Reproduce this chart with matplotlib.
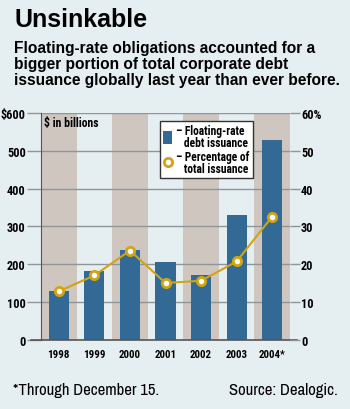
import matplotlib
matplotlib.use("Agg")
import matplotlib.pyplot as plt
from matplotlib.patches import Patch
from matplotlib.lines import Line2D

years = ["1998", "1999", "2000", "2001", "2002", "2003", "2004*"]
issuance = [130, 183, 237, 205, 171, 329, 528]
percentage = [12.8, 17.0, 23.6, 15.0, 15.6, 20.7, 32.6]
left_ticks = [0, 100, 200, 300, 400, 500, 600]
left_labels = ["0", "100", "200", "300", "400", "500", "$600"]
right_ticks = [0, 10, 20, 30, 40, 50, 60]
right_labels = ["0", "10", "20", "30", "40", "50", "60%"]

BG = "#e5eef1"
SHADE = "#cec6bf"
BAR = "#336a95"
GOLD = "#d2a414"
GRID = "#8f9699"

cond = ["Roboto Condensed", "DejaVu Sans"]
narrow = ["Archivo Narrow", "DejaVu Sans"]
bold = ["Liberation Sans", "DejaVu Sans"]
CB = dict(fontfamily=cond, fontweight="bold", fontstretch="condensed")

W, H = 350, 410
fig = plt.figure(figsize=(W/100, H/100), dpi=100, facecolor=BG)

x0, x1 = 41, 290
ytop, ybot = 114, 340.7
ax = fig.add_axes([x0/W, (H-ybot)/H, (x1-x0)/W, (ybot-ytop)/H])
ax.set_facecolor("none")
xs = list(range(len(years)))
for i in xs:
    if i % 2 == 0:
        ax.axvspan(i-0.5, i+0.5, color=SHADE, zorder=0, lw=0)
ax.bar(xs, issuance, width=0.57, color=BAR, zorder=2)
ax.set_xlim(-0.5, len(years)-0.5)
ax.set_ylim(0, 600)
ax.set_yticks(left_ticks)
ax.set_yticklabels(left_labels, fontsize=8.8, **CB)
ax.set_xticks(xs)
ax.set_xticklabels(years, fontsize=7.8, **CB)
ax.tick_params(axis="x", length=0, pad=7)
ax.tick_params(axis="y", length=10, color=GRID, width=1, pad=1)
ax.grid(axis="y", color=GRID, lw=1, zorder=1)
ax.set_axisbelow(True)
for s in ["top", "right", "bottom"]:
    ax.spines[s].set_visible(False)
ax.spines["left"].set_color("#555555")
ax.axhline(0, color="#555555", lw=1.2, zorder=3, xmin=-0.04, xmax=1.03, clip_on=False)
ax.text(0.012, 0.985, "$ in billions", transform=ax.transAxes, ha="left", va="top",
        fontsize=8.5, zorder=4, **CB)

ax2 = ax.twinx()
ax2.set_ylim(0, 60)
ax2.plot(xs, percentage, color=GOLD, lw=1.5, marker="o", ms=6,
         mfc="white", mec=GOLD, mew=2, zorder=5)
ax2.set_yticks(right_ticks)
ax2.set_yticklabels(right_labels, fontsize=8.8, **CB)
ax2.tick_params(axis="y", length=7, color=GRID, width=1, pad=1)
for s in ["top", "right", "left", "bottom"]:
    ax2.spines[s].set_visible(False)

handles = [Patch(facecolor=BAR, edgecolor="none"),
           Line2D([], [], color="none", marker="o", ms=6, mfc="white", mec=GOLD, mew=2)]
leg = ax2.legend(handles, ["– Floating-rate\n   debt issuance", "– Percentage of\n   total issuance"],
                 loc="upper left", bbox_to_anchor=((160-x0)/(x1-x0), (ybot-121.5)/(ybot-ytop)),
                 frameon=True, fancybox=False, framealpha=1, edgecolor="#333333",
                 prop={"family": cond, "weight": "bold", "size": 8.3, "stretch": "condensed"},
                 handlelength=0.75, handleheight=1.3, handletextpad=0.35, borderpad=0.3,
                 labelspacing=0.1, borderaxespad=0)
for t in leg.get_texts():
    t.set_linespacing(0.88)
leg.get_frame().set_linewidth(1)
leg.set_zorder(10)

fig.text(14/W, 1-8/H, "Unsinkable", ha="left", va="top", fontfamily=bold,
         fontweight="bold", fontsize=18)
fig.text(14/W, 1-41/H, "Floating-rate obligations accounted for a\nbigger portion of total corporate debt\nissuance globally last year than ever before.",
         ha="left", va="top", fontfamily=bold, fontweight="bold", fontsize=11.2, linespacing=1.1)
fig.text(13/W, 1-395/H, "*Through December 15.", ha="left", va="baseline",
         fontfamily=narrow, fontstretch="condensed", fontsize=12)
fig.text(338/W, 1-395/H, "Source: Dealogic.", ha="right", va="baseline",
         fontfamily=narrow, fontstretch="condensed", fontsize=12)

fig.savefig("out.png", dpi=100, facecolor=BG)
